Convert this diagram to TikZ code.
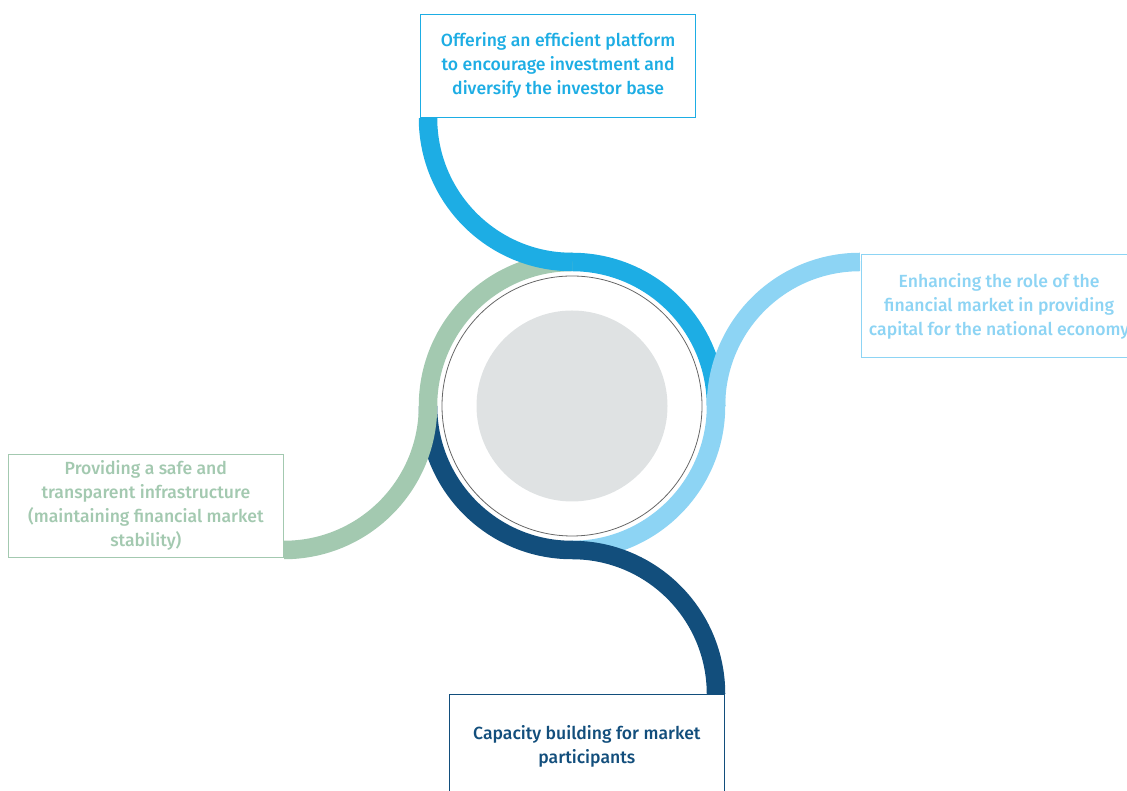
\documentclass[tikz,border=0pt]{standalone}
\usepackage{fontspec}
\setmainfont{Fira Sans}[UprightFont={* Medium}]
\usetikzlibrary{calc}
\definecolor{platformblue}{HTML}{1DADE4}
\definecolor{capitalblue}{HTML}{8DD4F4}
\definecolor{capacityblue}{HTML}{124E7C}
\definecolor{safegreen}{HTML}{A3C9B0}
\definecolor{coregray}{HTML}{DFE2E3}
\tikzset{
    band/.style={line width=18.5pt},
    goalbox/.style={draw=#1, text=#1, line width=1.3pt, fill=white, minimum width=275pt,
        minimum height=103pt, align=center, inner sep=0pt,
        font=\fontsize{17.6}{24}\selectfont},
}

\begin{document}
\begin{tikzpicture}[x=1pt,y=1pt]
    \useasboundingbox (0,0) rectangle (1127,791);
    \coordinate (hub) at (572,385);

    % === Core ===
    \fill[coregray] (hub) circle (95.5);
    \draw[black!60, line width=0.8pt] (hub) circle (130);

    % === Ring quarters ===
    \draw[band,platformblue] ($(hub)+(0,144)$) arc[start angle=90,end angle=0,radius=144];
    \draw[band,capitalblue] ($(hub)+(144,0)$) arc[start angle=0,end angle=-90,radius=144];
    \draw[band,capacityblue] ($(hub)+(0,-144)$) arc[start angle=270,end angle=180,radius=144];
    \draw[band,safegreen] ($(hub)+(-144,0)$) arc[start angle=180,end angle=90,radius=144];

    % === S-curves out to the boxes ===
    \draw[band,platformblue] ($(hub)+(0,144)$) arc[start angle=270,end angle=180,radius=144];
    \draw[band,capitalblue] ($(hub)+(144,0)$) arc[start angle=180,end angle=90,radius=144];
    \draw[band,capacityblue] ($(hub)+(0,-144)$) arc[start angle=90,end angle=0,radius=144];
    \draw[band,safegreen] ($(hub)+(-144,0)$) arc[start angle=0,end angle=-90,radius=144];

    % === Boxes ===
    \node[goalbox=platformblue, anchor=south west] (platform) at (420,673)
        {Offering an efficient platform\\to encourage investment and\\diversify the investor base};
    \node[goalbox=capitalblue, anchor=north west] (capital) at (861,537)
        {Enhancing the role of the\\financial market in providing\\capital for the national economy};
    \node[goalbox=capacityblue, anchor=north east] (capacity) at (725,97)
        {Capacity building for market\\participants};
    \node[goalbox=safegreen, anchor=south east] (safety) at (284,233)
        {Providing a safe and\\transparent infrastructure\\(maintaining financial market\\stability)};
\end{tikzpicture}
\end{document}
